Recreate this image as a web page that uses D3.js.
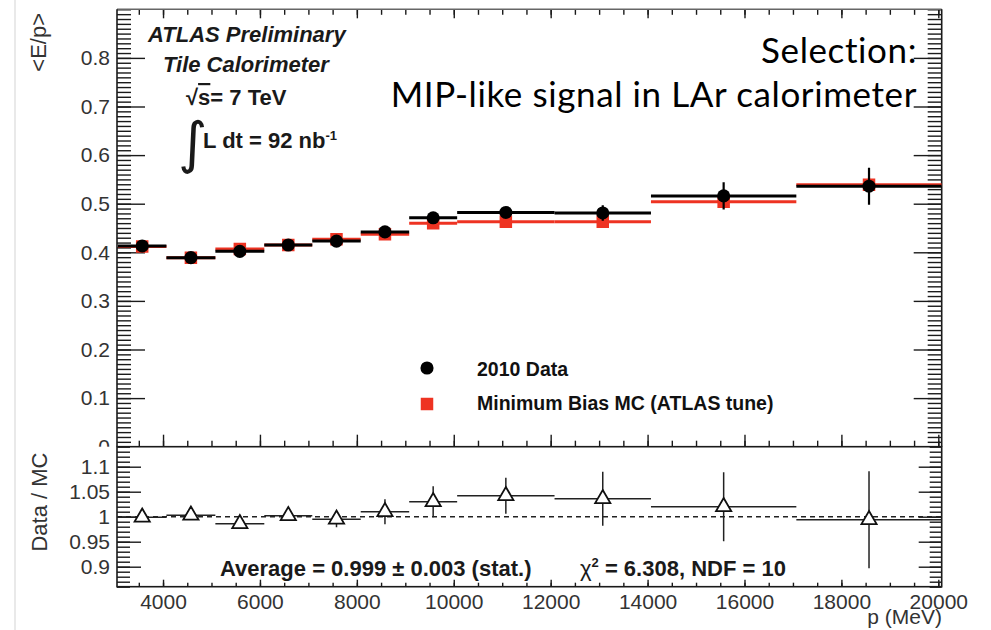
<!DOCTYPE html>
<html>
<head>
<meta charset="utf-8">
<script src="https://cdn.jsdelivr.net/npm/d3@7"></script>
<style>
  body { margin: 0; background: #fff; }
  svg { display: block; }
</style>
</head>
<body>
<script>
// bin edges in p (MeV)
const binEdges = [3070, 4070, 5080, 6090, 7080, 8080, 9080, 10070, 12080, 14070, 17070, 20070];

// <E/p> for 2010 data and MC, with stat. errors
const dataEp  = [0.413, 0.389, 0.402, 0.415, 0.423, 0.442, 0.471, 0.482, 0.481, 0.516, 0.536];
const dataErr = [0.003, 0.003, 0.003, 0.004, 0.005, 0.007, 0.009, 0.010, 0.016, 0.028, 0.038];
const mcEp    = [0.412, 0.389, 0.407, 0.415, 0.427, 0.437, 0.460, 0.463, 0.463, 0.504, 0.539];
const mcErr   = [0.002, 0.002, 0.002, 0.003, 0.004, 0.005, 0.006, 0.007, 0.009, 0.012, 0.015];

// Data / MC ratio
const ratio    = [0.999, 1.003, 0.986, 1.002, 0.995, 1.010, 1.030, 1.042, 1.036, 1.020, 0.994];
const ratioErr = [0.004, 0.005, 0.006, 0.008, 0.016, 0.025, 0.031, 0.036, 0.054, 0.069, 0.097];

// tick labels
const xTicks     = [4000, 6000, 8000, 10000, 12000, 14000, 16000, 18000, 20000];
const upperTicks = [0, 0.1, 0.2, 0.3, 0.4, 0.5, 0.6, 0.7, 0.8];
const ratioTicks = [0.9, 0.95, 1, 1.05, 1.1];

const W = 991, H = 630;
const frame = {left: 117, right: 941.7, top: 9.3, split: 446.7, bottom: 586.7};
const FONT = '"Liberation Sans", Arial, sans-serif';
const RED = '#ee3322';

const svg = d3.select('body').append('svg').attr('width', W).attr('height', H)
    .attr('font-family', FONT);

const x = d3.scaleLinear().domain([3050, 20070]).range([frame.left, frame.right]);
const yTop = d3.scaleLinear().domain([0, 0.9]).range([frame.split, frame.top]);
const yBot = d3.scaleLinear().domain([0.86, 1.14]).range([frame.bottom, frame.split]);

const xMinor = d3.range(3500, 20001, 500);

const bins = dataEp.map((d, i) => ({
    lo: binEdges[i], hi: Math.min(binEdges[i + 1], x.domain()[1]),
    mid: (binEdges[i] + binEdges[i + 1]) / 2,
    data: d, dErr: dataErr[i], mc: mcEp[i], mErr: mcErr[i],
    r: ratio[i], rErr: ratioErr[i]
}));

function ticks(g, axis, values, size, labels) {
    g.call(axis.tickValues(values).tickSize(size).tickPadding(7)
        .tickFormat(labels || ''));
    g.select('.domain').remove();
    g.attr('font-family', FONT).attr('font-size', 21);
    g.selectAll('line').attr('stroke', '#1a1a1a').attr('stroke-width', 1.4);
    g.selectAll('text').attr('fill', '#333');
    return g;
}

// ---------- upper pad ----------
const upper = svg.append('g');

ticks(upper.append('g').attr('transform', `translate(${frame.left},0)`),
    d3.axisLeft(yTop), yTop.ticks(90), -14);
ticks(upper.append('g').attr('transform', `translate(${frame.left},0)`),
    d3.axisLeft(yTop), upperTicks, -28, d => d === 0 ? '0' : d3.format('.1f')(d));
ticks(upper.append('g').attr('transform', `translate(${frame.right},0)`),
    d3.axisRight(yTop), yTop.ticks(90), -14);
ticks(upper.append('g').attr('transform', `translate(${frame.right},0)`),
    d3.axisRight(yTop), upperTicks, -28);
ticks(upper.append('g').attr('transform', `translate(0,${frame.top})`),
    d3.axisTop(x), xMinor, -5.5);
ticks(upper.append('g').attr('transform', `translate(0,${frame.top})`),
    d3.axisTop(x), xTicks, -9);
ticks(upper.append('g').attr('transform', `translate(0,${frame.split})`),
    d3.axisBottom(x), xMinor, -6);
ticks(upper.append('g').attr('transform', `translate(0,${frame.split})`),
    d3.axisBottom(x), xTicks, -12);

upper.append('line').attr('x1', frame.left).attr('x2', frame.right)
    .attr('y1', frame.top).attr('y2', frame.top)
    .attr('stroke', '#666').attr('stroke-width', 1.4);
upper.append('line').attr('x1', frame.left).attr('x2', frame.left)
    .attr('y1', frame.top).attr('y2', frame.split)
    .attr('stroke', '#1a1a1a').attr('stroke-width', 1.6);
upper.append('line').attr('x1', frame.right).attr('x2', frame.right)
    .attr('y1', frame.top).attr('y2', frame.split)
    .attr('stroke', '#1a1a1a').attr('stroke-width', 1.6);

svg.append('clipPath').attr('id', 'clipTop').append('rect')
    .attr('x', frame.left).attr('y', frame.top)
    .attr('width', frame.right - frame.left).attr('height', frame.split - frame.top);

const plotTop = upper.append('g').attr('clip-path', 'url(#clipTop)');

// MC first, data on top
function drawSeries(g, key, errKey, color, symbol) {
    const s = g.append('g');
    s.selectAll('.hbar').data(bins).enter().append('line')
        .attr('x1', d => x(d.lo)).attr('x2', d => x(d.hi))
        .attr('y1', d => yTop(d[key])).attr('y2', d => yTop(d[key]))
        .attr('stroke', color).attr('stroke-width', 3);
    s.selectAll('.vbar').data(bins).enter().append('line')
        .attr('x1', d => x(d.mid)).attr('x2', d => x(d.mid))
        .attr('y1', d => yTop(d[key] - d[errKey])).attr('y2', d => yTop(d[key] + d[errKey]))
        .attr('stroke', color).attr('stroke-width', 2.2);
    s.selectAll('.mk').data(bins).enter().append('path')
        .attr('d', symbol)
        .attr('transform', d => `translate(${x(d.mid)},${yTop(d[key])})`)
        .attr('fill', color);
}
const squareSym = d3.symbol(d3.symbolSquare, 156)();
const circleSym = d3.symbol(d3.symbolCircle, 135)();
drawSeries(plotTop, 'mc', 'mErr', RED, squareSym);
drawSeries(plotTop, 'data', 'dErr', '#000', circleSym);

// legend
upper.append('path').attr('d', circleSym).attr('transform', 'translate(427,368)').attr('fill', '#000');
upper.append('path').attr('d', squareSym).attr('transform', 'translate(427,404)').attr('fill', RED);
upper.append('text').attr('x', 477).attr('y', 376).attr('font-size', 19.5).attr('font-weight', 'bold')
    .attr('fill', '#111').text('2010 Data');
upper.append('text').attr('x', 477).attr('y', 410).attr('font-size', 19.5).attr('font-weight', 'bold')
    .attr('fill', '#111').text('Minimum Bias MC (ATLAS tune)');

// ATLAS labels
upper.append('text').attr('x', 148).attr('y', 41.5).attr('font-size', 22)
    .attr('font-weight', 'bold').attr('font-style', 'italic').attr('fill', '#1a1a1a')
    .text('ATLAS Preliminary');
upper.append('text').attr('x', 163).attr('y', 72).attr('font-size', 22)
    .attr('font-weight', 'bold').attr('font-style', 'italic').attr('fill', '#1a1a1a')
    .text('Tile Calorimeter');
const sq = upper.append('text').attr('x', 186).attr('y', 105).attr('font-size', 22)
    .attr('font-weight', 'bold').attr('fill', '#1a1a1a');
sq.append('tspan').text('√');
sq.append('tspan').attr('text-decoration', 'overline').text('s');
sq.append('tspan').text('= 7 TeV');
upper.append('text').attr('x', 178).attr('y', 162).attr('font-size', 56)
    .attr('font-family', '"DejaVu Sans", sans-serif').attr('fill', '#1a1a1a').text('∫');
const lumi = upper.append('text').attr('x', 203).attr('y', 148).attr('font-size', 22)
    .attr('font-weight', 'bold').attr('fill', '#1a1a1a');
lumi.append('tspan').text('L dt = 92 nb');
lumi.append('tspan').attr('dy', -8).attr('font-size', 13).text('-1');

// selection note
const sel = upper.append('g').attr('font-family', 'Lato, "Open Sans", sans-serif')
    .attr('font-size', 35).attr('letter-spacing', 0.6).attr('text-anchor', 'end').attr('fill', '#000');
sel.append('text').attr('x', 917).attr('y', 63).text('Selection:');
sel.append('text').attr('x', 917).attr('y', 107).text('MIP-like signal in LAr calorimeter');

// y title
svg.append('text').attr('transform', 'translate(46,13) rotate(-90)')
    .attr('text-anchor', 'end').attr('font-size', 22).attr('fill', '#333').text('<E/p>');

// ---------- lower pad ----------
svg.append('rect').attr('x', 0).attr('y', frame.split).attr('width', W)
    .attr('height', H - frame.split).attr('fill', '#fff');

const lower = svg.append('g');

ticks(lower.append('g').attr('transform', `translate(${frame.left},0)`),
    d3.axisLeft(yBot), yBot.ticks(28), -13);
ticks(lower.append('g').attr('transform', `translate(${frame.left},0)`),
    d3.axisLeft(yBot), ratioTicks, -24, d => String(+d.toFixed(2)));
ticks(lower.append('g').attr('transform', `translate(${frame.right},0)`),
    d3.axisRight(yBot), yBot.ticks(28), -12);
ticks(lower.append('g').attr('transform', `translate(${frame.right},0)`),
    d3.axisRight(yBot), ratioTicks, -23);
ticks(lower.append('g').attr('transform', `translate(0,${frame.bottom})`),
    d3.axisBottom(x), xMinor, -4);
ticks(lower.append('g').attr('transform', `translate(0,${frame.bottom})`),
    d3.axisBottom(x), xTicks, -7, d3.format('d'));

lower.append('rect').attr('x', frame.left).attr('y', frame.split)
    .attr('width', frame.right - frame.left).attr('height', frame.bottom - frame.split)
    .attr('fill', 'none').attr('stroke', '#1a1a1a').attr('stroke-width', 1.6);

svg.append('clipPath').attr('id', 'clipBot').append('rect')
    .attr('x', frame.left).attr('y', frame.split)
    .attr('width', frame.right - frame.left).attr('height', frame.bottom - frame.split);
const plotBot = lower.append('g').attr('clip-path', 'url(#clipBot)');

plotBot.append('line').attr('x1', frame.left).attr('x2', frame.right)
    .attr('y1', yBot(1)).attr('y2', yBot(1))
    .attr('stroke', '#222').attr('stroke-width', 1.4).attr('stroke-dasharray', '5,4');

plotBot.selectAll('.rh').data(bins).enter().append('line')
    .attr('x1', d => x(d.lo)).attr('x2', d => x(d.hi))
    .attr('y1', d => yBot(d.r)).attr('y2', d => yBot(d.r))
    .attr('stroke', '#222').attr('stroke-width', 1.5);
plotBot.selectAll('.rv').data(bins).enter().append('line')
    .attr('x1', d => x(d.mid)).attr('x2', d => x(d.mid))
    .attr('y1', d => yBot(d.r - d.rErr)).attr('y2', d => yBot(d.r + d.rErr))
    .attr('stroke', '#222').attr('stroke-width', 1.5);
plotBot.selectAll('.rt').data(bins).enter().append('path')
    .attr('d', d3.symbol(d3.symbolTriangle, 100)())
    .attr('transform', d => `translate(${x(d.mid)},${yBot(d.r)})`)
    .attr('fill', '#fff').attr('stroke', '#111').attr('stroke-width', 1.8);

lower.append('text').attr('x', 220).attr('y', 576).attr('font-size', 22)
    .attr('font-weight', 'bold').attr('fill', '#1a1a1a')
    .text('Average = 0.999 ± 0.003 (stat.)');
const chi = lower.append('text').attr('x', 580).attr('y', 576).attr('font-size', 22)
    .attr('font-weight', 'bold').attr('fill', '#1a1a1a');
chi.append('tspan').attr('font-weight', 'normal').text('χ');
chi.append('tspan').attr('dy', -9).attr('font-size', 13).text('2');
chi.append('tspan').attr('dy', 9).text(' = 6.308, NDF = 10');

svg.append('text').attr('transform', 'translate(47,502) rotate(-90)')
    .attr('text-anchor', 'middle').attr('font-size', 22).attr('fill', '#333').text('Data / MC');
svg.append('text').attr('x', 942).attr('y', 624).attr('text-anchor', 'end')
    .attr('font-size', 21).attr('fill', '#333').text('p (MeV)');

// faint slide border on the left
svg.append('line').attr('x1', 15).attr('x2', 15).attr('y1', 0).attr('y2', H)
    .attr('stroke', '#e2e2e2').attr('stroke-width', 1.5);
</script>
</body>
</html>
